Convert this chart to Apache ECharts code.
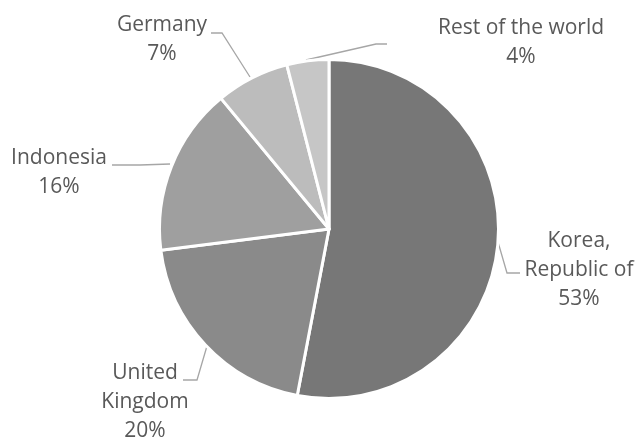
<!DOCTYPE html>
<html>
<head>
<meta charset="utf-8">
<script src="https://cdn.jsdelivr.net/npm/echarts@6/dist/echarts.min.js"></script>
<style>
html,body{margin:0;padding:0;background:#fff;}
#chart{width:639px;height:439px;}
</style>
</head>
<body>
<div id="chart"></div>
<script>
// Data
const categories = ['Korea, Republic of', 'United Kingdom', 'Indonesia', 'Germany', 'Rest of the world'];
const shares = [53, 20, 16, 7, 4];
const sliceColors = ['#777777', '#8a8a8a', '#9f9f9f', '#bcbcbc', '#c6c6c6'];
const wrappedNames = {
  'Korea, Republic of': 'Korea,\nRepublic of',
  'United Kingdom': 'United\nKingdom'
};

// Label placement (layout only)
const labelPlacement = [
  { x: 579, y: 270, line: [[498, 242], [507, 273], [520, 273]] },
  { x: 145, y: 402, line: [[207, 346], [197, 380], [183, 380]] },
  { x: 59,  y: 173, line: [[170, 164], [140, 165], [112, 165]] },
  { x: 162, y: 40,  line: [[250, 77], [222, 33], [211, 33]] },
  { x: 521, y: 43,  line: [[306, 60], [376, 44], [387, 44]] }
];

const chart = echarts.init(document.getElementById('chart'), null, { renderer: 'canvas' });
chart.setOption({
  backgroundColor: '#ffffff',
  animation: false,
  series: [{
    type: 'pie',
    center: [329, 229],
    radius: 169.5,
    startAngle: 90,
    clockwise: true,
    avoidLabelOverlap: false,
    data: categories.map((c, i) => ({ name: c, value: shares[i], itemStyle: { color: sliceColors[i] } })),
    itemStyle: { borderColor: '#ffffff', borderWidth: 3 },
    label: {
      show: true,
      position: 'outside',
      formatter: p => (wrappedNames[p.name] || p.name) + '\n' + p.value + '%',
      fontFamily: 'Open Sans',
      fontSize: 21,
      lineHeight: 29,
      color: '#595959',
      align: 'center'
    },
    labelLine: {
      show: true,
      lineStyle: { color: '#a6a6a6', width: 1.3 }
    },
    labelLayout: function (params) {
      const p = labelPlacement[params.dataIndex];
      return {
        x: p.x,
        y: p.y,
        align: 'center',
        verticalAlign: 'middle',
        labelLinePoints: p.line
      };
    },
    emphasis: { disabled: true }
  }]
});
</script>
</body>
</html>
